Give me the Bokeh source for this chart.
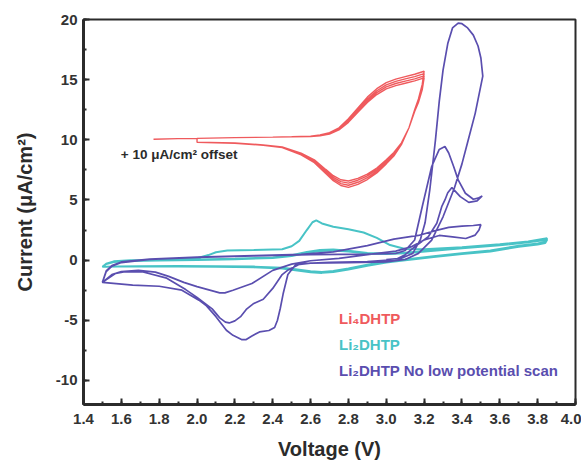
from bokeh.plotting import figure
from bokeh.models import (Range1d, SingleIntervalTicker, NumeralTickFormatter,
                          Legend, LegendItem, Label)
from bokeh.embed import file_html
from bokeh.resources import INLINE

# ---------------- data ----------------
# Li4DHTP (+10 uA/cm2 offset), 4 cycles
red_start_v = [1.77, 1.90]
red_start_i = [10.05, 10.10]
red_fwd_v = [2.00, 2.20, 2.40, 2.50, 2.60, 2.65, 2.70, 2.75, 2.80, 2.85, 2.90, 2.95, 3.00, 3.05, 3.10, 3.15, 3.20]
red_fwd1_i = [10.12, 10.18, 10.22, 10.25, 10.30, 10.40, 10.60, 11.00, 11.75, 12.65, 13.55, 14.25, 14.75, 15.05, 15.25, 15.45, 15.70]
red_fwd2_i = [10.12, 10.18, 10.22, 10.25, 10.30, 10.38, 10.56, 10.94, 11.65, 12.52, 13.40, 14.08, 14.57, 14.86, 15.06, 15.25, 15.50]
red_fwd3_i = [10.12, 10.18, 10.22, 10.25, 10.29, 10.36, 10.52, 10.88, 11.55, 12.40, 13.25, 13.92, 14.40, 14.68, 14.88, 15.07, 15.32]
red_fwd4_i = [10.12, 10.18, 10.22, 10.25, 10.28, 10.34, 10.48, 10.82, 11.45, 12.28, 13.10, 13.76, 14.23, 14.50, 14.70, 14.90, 15.15]
red_rev_v = [3.20, 3.19, 3.17, 3.15, 3.12, 3.08, 3.04, 3.00, 2.95, 2.90, 2.85, 2.80, 2.76, 2.72, 2.68, 2.62, 2.55, 2.45, 2.35, 2.20, 2.00]
red_rev1_i = [15.70, 14.60, 13.40, 12.50, 11.00, 9.60, 8.65, 8.00, 7.25, 6.70, 6.30, 6.05, 6.20, 6.60, 7.20, 8.10, 8.75, 9.35, 9.55, 9.72, 9.80]
red_rev2_i = [15.50, 14.45, 13.30, 12.45, 11.00, 9.65, 8.75, 8.10, 7.38, 6.85, 6.47, 6.22, 6.36, 6.74, 7.30, 8.18, 8.80, 9.37, 9.56, 9.72, 9.80]
red_rev3_i = [15.32, 14.30, 13.20, 12.40, 11.00, 9.70, 8.85, 8.22, 7.52, 7.00, 6.64, 6.40, 6.52, 6.88, 7.42, 8.26, 8.85, 9.39, 9.57, 9.73, 9.80]
red_rev4_i = [15.15, 14.15, 13.10, 12.35, 11.00, 9.75, 8.95, 8.34, 7.66, 7.15, 6.80, 6.58, 6.68, 7.02, 7.54, 8.34, 8.90, 9.41, 9.58, 9.73, 9.80]

# Li2DHTP, 3 cycles
teal_fwd1_v = [1.50, 1.52, 1.56, 1.65, 1.80, 2.00, 2.06, 2.10, 2.16, 2.30, 2.45, 2.50, 2.54, 2.58, 2.61, 2.63, 2.66, 2.72, 2.80, 2.88, 2.95, 3.02, 3.10, 3.20, 3.40, 3.60, 3.75, 3.85]
teal_fwd1_i = [-0.55, -0.30, -0.10, -0.02, 0.02, 0.15, 0.42, 0.65, 0.80, 0.84, 0.90, 1.15, 1.60, 2.50, 3.15, 3.30, 3.05, 2.78, 2.57, 2.30, 1.85, 1.25, 0.92, 0.90, 1.08, 1.32, 1.55, 1.82]
teal_fwd_v = [1.50, 1.52, 1.56, 1.65, 1.80, 2.00, 2.20, 2.40, 2.50, 2.58, 2.65, 2.72, 2.80, 2.90, 3.00, 3.10, 3.25, 3.40, 3.60, 3.75, 3.85]
teal_fwd2_i = [-0.55, -0.30, -0.12, -0.05, 0.00, 0.05, 0.12, 0.22, 0.40, 0.68, 0.85, 0.88, 0.78, 0.60, 0.55, 0.62, 0.82, 1.02, 1.28, 1.52, 1.75]
teal_fwd3_i = [-0.55, -0.32, -0.15, -0.08, -0.03, 0.02, 0.08, 0.18, 0.34, 0.60, 0.76, 0.80, 0.72, 0.55, 0.50, 0.58, 0.78, 0.98, 1.24, 1.48, 1.70]
teal_rev_v = [3.85, 3.84, 3.80, 3.70, 3.55, 3.40, 3.25, 3.10, 3.00, 2.90, 2.80, 2.72, 2.66, 2.60, 2.52, 2.45, 2.30, 2.10, 1.90, 1.70, 1.58, 1.52, 1.50]
teal_rev1_i = [1.82, 1.50, 1.38, 1.20, 0.80, 0.58, 0.33, 0.06, -0.12, -0.38, -0.70, -0.90, -0.98, -0.92, -0.76, -0.64, -0.54, -0.50, -0.48, -0.50, -0.52, -0.55, -0.55]
teal_rev2_i = [1.75, 1.45, 1.34, 1.16, 0.76, 0.54, 0.29, 0.02, -0.16, -0.42, -0.74, -0.94, -1.02, -0.96, -0.80, -0.67, -0.57, -0.52, -0.50, -0.51, -0.53, -0.55, -0.55]
teal_rev3_i = [1.70, 1.42, 1.30, 1.12, 0.72, 0.50, 0.25, -0.02, -0.20, -0.46, -0.78, -0.98, -1.06, -1.00, -0.84, -0.70, -0.60, -0.55, -0.52, -0.53, -0.54, -0.56, -0.56]

# Li2DHTP no low potential scan
pur_ox1_v = [3.00, 3.08, 3.14, 3.18, 3.205, 3.23, 3.26, 3.28, 3.30, 3.325, 3.35, 3.38, 3.40, 3.43, 3.46, 3.485, 3.50, 3.51]
pur_ox1_i = [0.05, 0.15, 0.56, 1.70, 3.10, 5.83, 10.0, 13.2, 15.8, 18.0, 19.3, 19.7, 19.65, 19.3, 18.7, 17.8, 16.8, 15.3]
pur_red1_v = [3.51, 3.47, 3.43, 3.40, 3.36, 3.30, 3.24, 3.17, 3.10, 3.00, 2.80, 2.60, 2.52, 2.48, 2.455, 2.44, 2.425, 2.41, 2.38, 2.33, 2.29, 2.26, 2.235, 2.19, 2.155, 2.10, 2.05, 2.01, 1.92, 1.80, 1.66, 1.50]
pur_red1_i = [15.3, 12.2, 9.8, 8.0, 6.0, 3.6, 1.67, 0.56, 0.05, -0.15, -0.20, -0.25, -0.40, -1.2, -2.8, -4.0, -5.0, -5.6, -5.85, -5.97, -6.3, -6.6, -6.6, -6.25, -5.83, -4.7, -3.8, -3.33, -2.5, -2.17, -2.08, -1.85]
pur_ox2_v = [1.50, 1.52, 1.55, 1.60, 1.75, 2.00, 2.30, 2.60, 2.90, 3.05, 3.10, 3.15, 3.19, 3.24, 3.28, 3.31, 3.33, 3.356, 3.38, 3.418, 3.46, 3.485, 3.507]
pur_ox2_i = [-1.85, -0.95, -0.50, -0.20, 0.05, 0.22, 0.35, 0.45, 0.50, 0.55, 0.80, 1.67, 4.44, 7.78, 9.2, 9.44, 8.9, 7.78, 6.67, 5.56, 5.06, 5.15, 5.33]
pur_red2_v = [3.507, 3.48, 3.436, 3.391, 3.347, 3.325, 3.31, 3.293, 3.267, 3.222, 3.15, 3.10, 3.05, 2.90, 2.70, 2.55, 2.48, 2.45, 2.40, 2.35, 2.30, 2.26, 2.23, 2.20, 2.17, 2.15, 2.12, 2.08, 2.00, 1.94, 1.84, 1.71, 1.62, 1.57, 1.50]
pur_red2_i = [5.33, 4.92, 4.80, 5.28, 6.03, 5.6, 5.0, 4.44, 3.06, 1.94, 1.1, 0.45, 0.05, -0.12, -0.18, -0.28, -0.83, -1.2, -2.35, -3.25, -3.6, -4.1, -4.7, -5.05, -5.22, -5.15, -4.8, -4.05, -3.1, -2.45, -1.5, -0.97, -0.95, -1.1, -1.85]
pur_ox3_v = [1.50, 1.52, 1.55, 1.60, 1.75, 2.00, 2.30, 2.55, 2.72, 2.90, 3.04, 3.17, 3.26, 3.33, 3.40, 3.46, 3.50]
pur_ox3_i = [-1.85, -0.90, -0.45, -0.15, 0.08, 0.25, 0.38, 0.48, 0.69, 1.2, 1.75, 2.05, 2.45, 2.72, 2.83, 2.88, 2.95]
pur_red3_v = [3.50, 3.49, 3.47, 3.42, 3.35, 3.28, 3.20, 3.13, 3.05, 2.90, 2.75, 2.60, 2.50, 2.40, 2.29, 2.19, 2.147, 2.12, 2.00, 1.93, 1.85, 1.78, 1.69, 1.60, 1.55, 1.50]
pur_red3_i = [2.95, 2.5, 2.08, 1.8, 1.94, 2.05, 1.67, 1.1, 0.75, 0.45, 0.15, -0.05, -0.33, -0.85, -1.94, -2.5, -2.72, -2.72, -2.2, -1.85, -1.35, -1.0, -0.85, -0.95, -1.2, -1.85]

legend_labels = ["Li\u2084DHTP", "Li\u2082DHTP", "Li\u2082DHTP No low potential scan"]
offset_note = "+ 10 \u03bcA/cm\u00b2 offset"

RED = "#ef5a5d"
TEAL = "#48c3c6"
PURPLE = "#5a4eaf"
DARK = "#2b2b2b"
FONT = "Liberation Sans"

# ---------------- build series ----------------
red_v = red_start_v + red_fwd_v + red_rev_v + red_fwd_v + red_rev_v + red_fwd_v + red_rev_v + red_fwd_v + red_rev_v
red_i = (red_start_i + red_fwd1_i + red_rev1_i + red_fwd2_i + red_rev2_i
         + red_fwd3_i + red_rev3_i + red_fwd4_i + red_rev4_i)
teal_v = teal_fwd1_v + teal_rev_v + teal_fwd_v + teal_rev_v + teal_fwd_v + teal_rev_v
teal_i = teal_fwd1_i + teal_rev1_i + teal_fwd2_i + teal_rev2_i + teal_fwd3_i + teal_rev3_i
pur_v = pur_ox1_v + pur_red1_v + pur_ox2_v + pur_red2_v + pur_ox3_v + pur_red3_v
pur_i = pur_ox1_i + pur_red1_i + pur_ox2_i + pur_red2_i + pur_ox3_i + pur_red3_i

# ---------------- figure ----------------
p = figure(frame_width=492, frame_height=385, x_range=Range1d(1.4, 4.0), y_range=Range1d(-12, 20),
           output_backend="svg", toolbar_location=None,
           min_border_left=83, min_border_right=6, min_border_top=19, min_border_bottom=45)
p.xgrid.grid_line_color = None
p.ygrid.grid_line_color = None
p.outline_line_color = DARK
p.outline_line_width = 2
p.background_fill_color = "white"
p.border_fill_color = "white"

p.xaxis.ticker = SingleIntervalTicker(interval=0.2, num_minor_ticks=2)
p.yaxis.ticker = SingleIntervalTicker(interval=5, num_minor_ticks=2)
p.xaxis.formatter = NumeralTickFormatter(format="0.0")
p.yaxis.formatter = NumeralTickFormatter(format="0")
p.xaxis.axis_label = "Voltage (V)"
p.yaxis.axis_label = "Current (\u03bcA/cm\u00b2)"
for ax in (p.xaxis[0], p.yaxis[0]):
    ax.axis_line_width = 3
    ax.axis_line_color = DARK
    ax.major_tick_in = 6
    ax.major_tick_out = 0
    ax.minor_tick_in = 3
    ax.minor_tick_out = 0
    ax.major_tick_line_width = 2
    ax.minor_tick_line_width = 2
    ax.major_tick_line_color = DARK
    ax.minor_tick_line_color = DARK
    ax.major_label_text_font = FONT
    ax.major_label_text_font_style = "bold"
    ax.major_label_text_font_size = "15px"
    ax.major_label_text_color = "#333333"
    ax.axis_label_text_font = FONT
    ax.axis_label_text_font_style = "bold"
    ax.axis_label_text_font_size = "20px"
    ax.axis_label_text_color = DARK
p.xaxis.major_label_standoff = 9
p.yaxis.major_label_standoff = 6
p.xaxis.axis_label_standoff = 11
p.yaxis.axis_label_standoff = 17

r_red = p.line(red_v, red_i, line_color=RED, line_width=1.4)
r_teal = p.line(teal_v, teal_i, line_color=TEAL, line_width=2)
r_pur = p.line(pur_v, pur_i, line_color=PURPLE, line_width=1.7)

# legend proxies (thicker strokes, as in the original legend)
proxies = [p.line([], [], line_color=c, line_width=3) for c in (RED, TEAL, PURPLE)]

for k, (lab, rend, col) in enumerate(zip(legend_labels, proxies, [RED, TEAL, PURPLE])):
    lg = Legend(items=[LegendItem(label=lab, renderers=[rend])],
                location=(220, 77 - 26 * k), padding=0, margin=0, spacing=0,
                border_line_color=None, background_fill_alpha=0,
                glyph_width=25, glyph_height=18, label_height=18, label_standoff=11,
                label_text_color=col, label_text_font=FONT, label_text_font_style="bold",
                label_text_font_size="15px")
    p.add_layout(lg)

p.add_layout(Label(x=1.597, y=8.75, text=offset_note, text_font=FONT, text_font_style="bold",
                   text_font_size="13.5px", text_color=DARK, text_baseline="middle"))

open("out.html", "w").write(file_html(p, INLINE))
